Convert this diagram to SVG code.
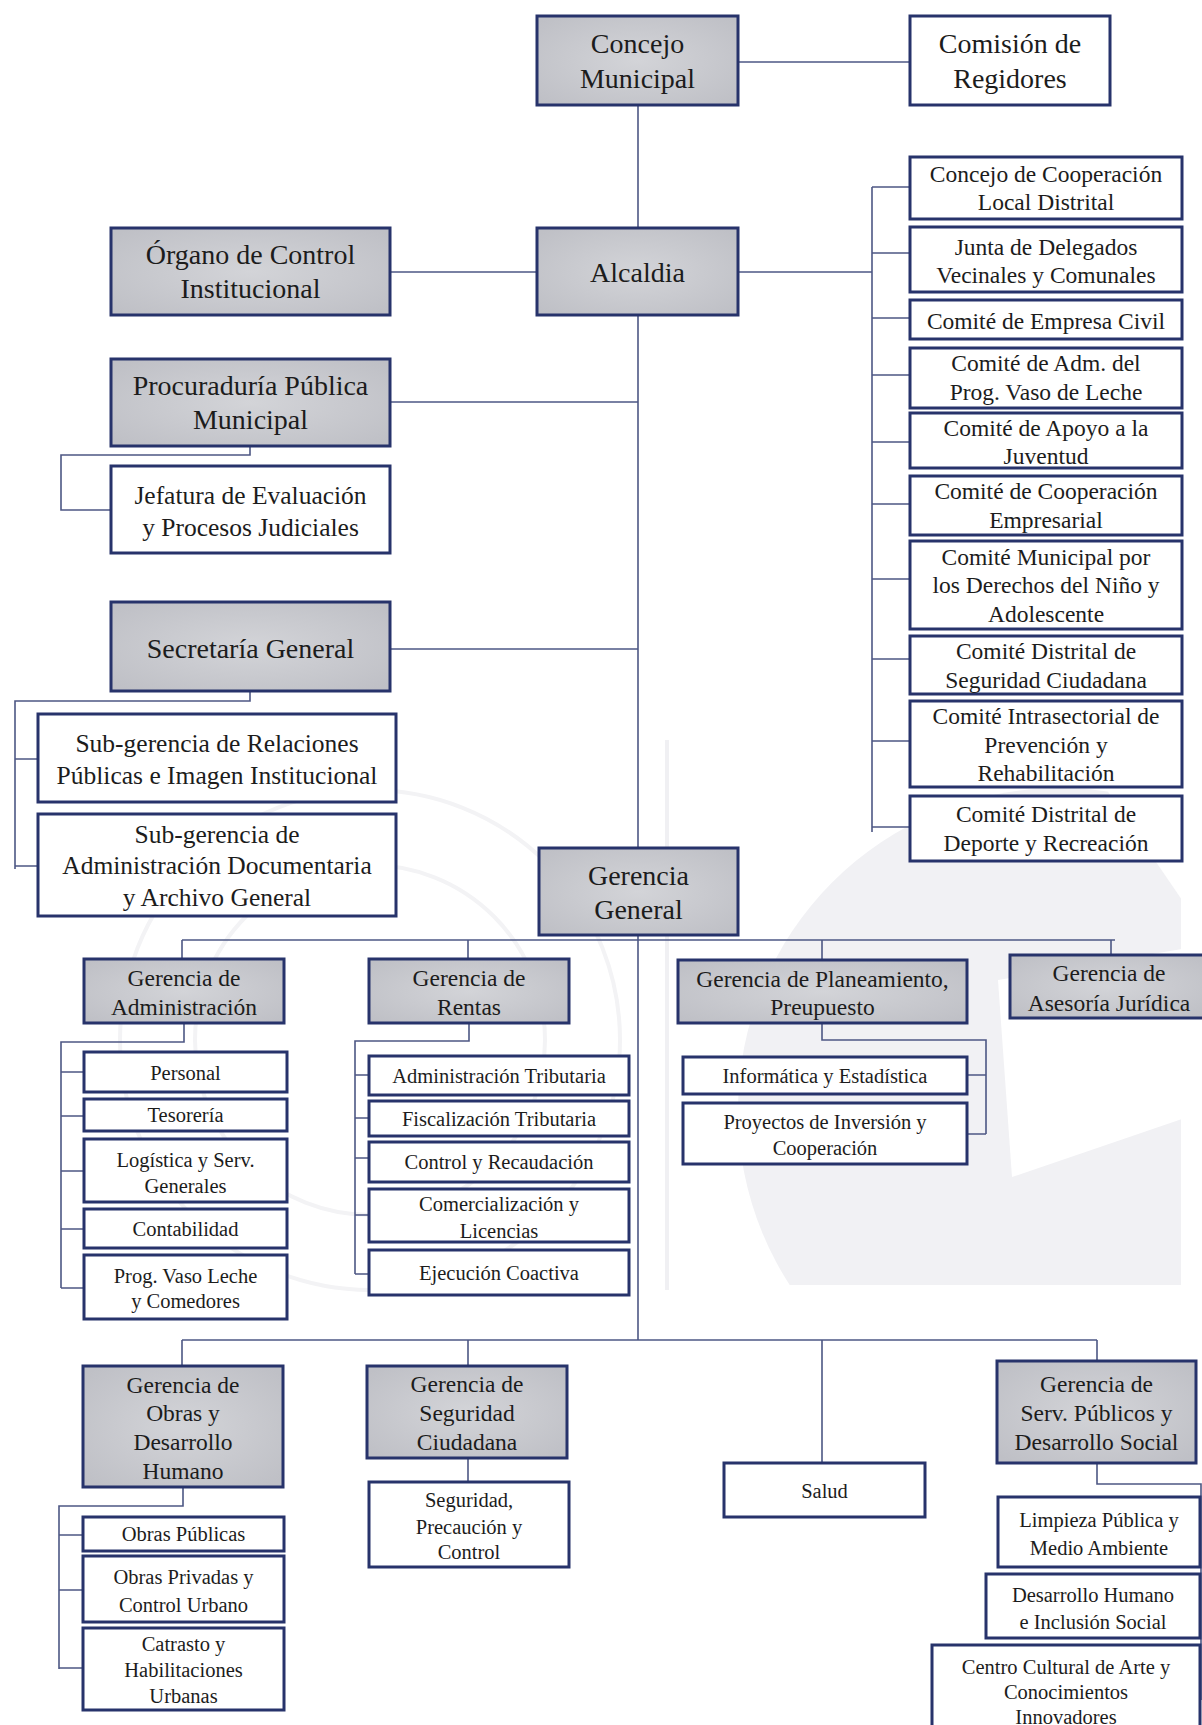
<svg xmlns="http://www.w3.org/2000/svg" width="1202" height="1725" viewBox="0 0 1202 1725">
<defs>
<radialGradient id="gg" cx="50%" cy="50%" r="65%">
<stop offset="0" stop-color="#d3d4d8"/>
<stop offset="1" stop-color="#bfc0c6"/>
</radialGradient>
<clipPath id="wmclip"><rect x="0" y="0" width="1181" height="1285"/></clipPath>
</defs>
<style>
.g{fill:url(#gg);stroke:#27336b;stroke-width:3}
.w{fill:#ffffff;stroke:#27336b;stroke-width:3}
.c{fill:none;stroke:#4d5784;stroke-width:1.6}
text{font-family:"Liberation Serif","Times New Roman",serif;fill:#1c1c1c;text-anchor:middle}
.t28{font-size:28px}
.t25{font-size:25.5px}
.t23{font-size:23.5px}
.t20{font-size:20.5px}
.wm{fill:none;stroke:#f3f3f5;stroke-width:4}
</style>
<rect x="0" y="0" width="1202" height="1725" fill="#ffffff"/>
<g id="watermark">
<circle cx="1060" cy="1110" r="322" fill="#f1f1f4" clip-path="url(#wmclip)"/>
<polygon points="998,980 1182,949 1182,1119 1012,1177" fill="#ffffff"/>
<polygon points="1100,780 1182,780 1182,900" fill="#ffffff"/>
<circle class="wm" cx="370" cy="1040" r="250"/>
<circle class="wm" cx="370" cy="1040" r="175"/>
<rect x="665" y="740" width="4" height="550" fill="#f0f0f3"/>
</g>
<g id="connectors">
<path class="c" d="M738 62 H910"/>
<path class="c" d="M638 105 V228"/>
<path class="c" d="M390 272 H537"/>
<path class="c" d="M738 272 H872"/>
<path class="c" d="M872 187 V832"/>
<path class="c" d="M872 187 H910 M872 253 H910 M872 318 H910 M872 375 H910 M872 442 H910 M872 504 H910 M872 579 H910 M872 659 H910 M872 741 H910 M872 827 H910"/>
<path class="c" d="M638 315 V848"/>
<path class="c" d="M390 402 H638"/>
<path class="c" d="M250 446 V455 H61 V510 H111"/>
<path class="c" d="M390 649 H638"/>
<path class="c" d="M250 691 V701 H15 V869"/>
<path class="c" d="M15 759 H37 M15 866 H37"/>
<path class="c" d="M638 935 V1340"/>
<path class="c" d="M182 940 H1115"/>
<path class="c" d="M182 940 V959 M468 940 V959 M822 940 V959 M1111 940 V955"/>
<path class="c" d="M184 1023 V1042 H61 V1288"/>
<path class="c" d="M61 1072 H84 M61 1116 H84 M61 1171 H84 M61 1229 H84 M61 1288 H84"/>
<path class="c" d="M469 1023 V1041 H355 V1274"/>
<path class="c" d="M355 1075 H369 M355 1118 H369 M355 1158 H369 M355 1215 H369 M355 1274 H369"/>
<path class="c" d="M822 1023 V1040 H986 V1134"/>
<path class="c" d="M967 1075 H986 M967 1134 H986"/>
<path class="c" d="M182 1340 H1097"/>
<path class="c" d="M182 1340 V1366 M468 1340 V1366 M822 1340 V1463 M1097 1340 V1361"/>
<path class="c" d="M183 1487 V1506 H59 V1669"/>
<path class="c" d="M59 1535 H83 M59 1590 H83 M59 1668 H83"/>
<path class="c" d="M468 1458 V1482"/>
<path class="c" d="M1097 1463 V1484 H1201 V1700"/>
</g>
<g id="concejo-municipal"><rect class="g" x="537" y="16" width="201" height="89"/><text class="t28" x="637.5" y="53">Concejo</text><text class="t28" x="637.5" y="88">Municipal</text></g>
<g id="comision-regidores"><rect class="w" x="910" y="16" width="200" height="89"/><text class="t28" x="1010" y="53">Comisión de</text><text class="t28" x="1010" y="88">Regidores</text></g>
<g id="alcaldia"><rect class="g" x="537" y="228" width="201" height="87"/><text class="t28" x="637.5" y="282">Alcaldia</text></g>
<g id="organo-control"><rect class="g" x="111" y="228" width="279" height="87"/><text class="t28" x="250.5" y="264">Órgano de Control</text><text class="t28" x="250.5" y="298">Institucional</text></g>
<g id="procuraduria"><rect class="g" x="111" y="359" width="279" height="87"/><text class="t28" x="250.5" y="395">Procuraduría Pública</text><text class="t28" x="250.5" y="429">Municipal</text></g>
<g id="jefatura"><rect class="w" x="111" y="466" width="279" height="87"/><text class="t25" x="250.5" y="504">Jefatura de Evaluación</text><text class="t25" x="250.5" y="536">y Procesos Judiciales</text></g>
<g id="secretaria-general"><rect class="g" x="111" y="602" width="279" height="89"/><text class="t28" x="250.5" y="658">Secretaría General</text></g>
<g id="sub-relaciones"><rect class="w" x="38" y="714" width="358" height="88"/><text class="t25" x="217" y="752">Sub-gerencia de Relaciones</text><text class="t25" x="217" y="784">Públicas e Imagen Institucional</text></g>
<g id="sub-documentaria"><rect class="w" x="38" y="814" width="358" height="102"/><text class="t25" x="217" y="843">Sub-gerencia de</text><text class="t25" x="217" y="874">Administración Documentaria</text><text class="t25" x="217" y="906">y Archivo General</text></g>
<g id="r1"><rect class="w" x="910" y="157" width="272" height="62"/><text class="t23" x="1046" y="182">Concejo de Cooperación</text><text class="t23" x="1046" y="210">Local Distrital</text></g>
<g id="r2"><rect class="w" x="910" y="227" width="272" height="65"/><text class="t23" x="1046" y="255">Junta de Delegados</text><text class="t23" x="1046" y="283">Vecinales y Comunales</text></g>
<g id="r3"><rect class="w" x="910" y="300" width="272" height="39"/><text class="t23" x="1046" y="329">Comité de Empresa Civil</text></g>
<g id="r4"><rect class="w" x="910" y="348" width="272" height="60"/><text class="t23" x="1046" y="371">Comité de Adm. del</text><text class="t23" x="1046" y="400">Prog. Vaso de Leche</text></g>
<g id="r5"><rect class="w" x="910" y="413" width="272" height="55"/><text class="t23" x="1046" y="436">Comité de Apoyo a la</text><text class="t23" x="1046" y="464">Juventud</text></g>
<g id="r6"><rect class="w" x="910" y="476" width="272" height="59"/><text class="t23" x="1046" y="499">Comité de Cooperación</text><text class="t23" x="1046" y="528">Empresarial</text></g>
<g id="r7"><rect class="w" x="910" y="541" width="272" height="88"/><text class="t23" x="1046" y="565">Comité Municipal por</text><text class="t23" x="1046" y="593">los Derechos del Niño y</text><text class="t23" x="1046" y="622">Adolescente</text></g>
<g id="r8"><rect class="w" x="910" y="636" width="272" height="58"/><text class="t23" x="1046" y="659">Comité Distrital de</text><text class="t23" x="1046" y="688">Seguridad Ciudadana</text></g>
<g id="r9"><rect class="w" x="910" y="701" width="272" height="86"/><text class="t23" x="1046" y="724">Comité Intrasectorial de</text><text class="t23" x="1046" y="753">Prevención y</text><text class="t23" x="1046" y="781">Rehabilitación</text></g>
<g id="r10"><rect class="w" x="910" y="796" width="272" height="65"/><text class="t23" x="1046" y="822">Comité Distrital de</text><text class="t23" x="1046" y="851">Deporte y Recreación</text></g>
<g id="gerencia-general"><rect class="g" x="539" y="848" width="199" height="87"/><text class="t28" x="638.5" y="885">Gerencia</text><text class="t28" x="638.5" y="919">General</text></g>
<g id="ger-administracion"><rect class="g" x="84" y="959" width="200" height="64"/><text class="t23" x="184" y="986">Gerencia de</text><text class="t23" x="184" y="1015">Administración</text></g>
<g id="ger-rentas"><rect class="g" x="369" y="959" width="200" height="64"/><text class="t23" x="469" y="986">Gerencia de</text><text class="t23" x="469" y="1015">Rentas</text></g>
<g id="ger-planeamiento"><rect class="g" x="678" y="960" width="289" height="63"/><text class="t23" x="822.5" y="987">Gerencia de Planeamiento,</text><text class="t23" x="822.5" y="1015">Preupuesto</text></g>
<g id="ger-asesoria"><rect class="g" x="1010" y="955" width="196" height="63"/><text class="t23" x="1109" y="981">Gerencia de</text><text class="t23" x="1109" y="1011">Asesoría Jurídica</text></g>
<g id="personal"><rect class="w" x="84" y="1052" width="203" height="40"/><text class="t20" x="185.5" y="1080">Personal</text></g>
<g id="tesoreria"><rect class="w" x="84" y="1099" width="203" height="32"/><text class="t20" x="185.5" y="1122">Tesorería</text></g>
<g id="logistica"><rect class="w" x="84" y="1139" width="203" height="63"/><text class="t20" x="185.5" y="1167">Logística y Serv.</text><text class="t20" x="185.5" y="1193">Generales</text></g>
<g id="contabilidad"><rect class="w" x="84" y="1209" width="203" height="39"/><text class="t20" x="185.5" y="1236">Contabilidad</text></g>
<g id="vaso-leche"><rect class="w" x="84" y="1255" width="203" height="64"/><text class="t20" x="185.5" y="1283">Prog. Vaso Leche</text><text class="t20" x="185.5" y="1308">y Comedores</text></g>
<g id="adm-tributaria"><rect class="w" x="369" y="1056" width="260" height="39"/><text class="t20" x="499" y="1083">Administración  Tributaria</text></g>
<g id="fisc-tributaria"><rect class="w" x="369" y="1101" width="260" height="35"/><text class="t20" x="499" y="1126">Fiscalización  Tributaria</text></g>
<g id="control-recaudacion"><rect class="w" x="369" y="1142" width="260" height="40"/><text class="t20" x="499" y="1169">Control y Recaudación</text></g>
<g id="comercializacion"><rect class="w" x="369" y="1189" width="260" height="53"/><text class="t20" x="499" y="1211">Comercialización  y</text><text class="t20" x="499" y="1238">Licencias</text></g>
<g id="ejecucion-coactiva"><rect class="w" x="369" y="1250" width="260" height="45"/><text class="t20" x="499" y="1280">Ejecución  Coactiva</text></g>
<g id="informatica"><rect class="w" x="683" y="1057" width="284" height="37"/><text class="t20" x="825" y="1083">Informática  y Estadística</text></g>
<g id="proyectos"><rect class="w" x="683" y="1103" width="284" height="61"/><text class="t20" x="825" y="1129">Proyectos de Inversión  y</text><text class="t20" x="825" y="1155">Cooperación</text></g>
<g id="ger-obras"><rect class="g" x="83" y="1366" width="200" height="121"/><text class="t23" x="183" y="1393">Gerencia de</text><text class="t23" x="183" y="1421">Obras y</text><text class="t23" x="183" y="1450">Desarrollo</text><text class="t23" x="183" y="1479">Humano</text></g>
<g id="ger-seguridad"><rect class="g" x="367" y="1366" width="200" height="92"/><text class="t23" x="467" y="1392">Gerencia de</text><text class="t23" x="467" y="1421">Seguridad</text><text class="t23" x="467" y="1450">Ciudadana</text></g>
<g id="salud"><rect class="w" x="724" y="1463" width="201" height="54"/><text class="t20" x="824.5" y="1498">Salud</text></g>
<g id="ger-servicios"><rect class="g" x="997" y="1361" width="199" height="102"/><text class="t23" x="1096.5" y="1392">Gerencia de</text><text class="t23" x="1096.5" y="1421">Serv. Públicos y</text><text class="t23" x="1096.5" y="1450">Desarrollo Social</text></g>
<g id="obras-publicas"><rect class="w" x="83" y="1517" width="201" height="34"/><text class="t20" x="183.5" y="1541">Obras Públicas</text></g>
<g id="obras-privadas"><rect class="w" x="83" y="1556" width="201" height="66"/><text class="t20" x="183.5" y="1584">Obras Privadas y</text><text class="t20" x="183.5" y="1612">Control Urbano</text></g>
<g id="catrasto"><rect class="w" x="83" y="1628" width="201" height="82"/><text class="t20" x="183.5" y="1651">Catrasto y</text><text class="t20" x="183.5" y="1677">Habilitaciones</text><text class="t20" x="183.5" y="1703">Urbanas</text></g>
<g id="seguridad-precaucion"><rect class="w" x="369" y="1482" width="200" height="85"/><text class="t20" x="469" y="1507">Seguridad,</text><text class="t20" x="469" y="1534">Precaución y</text><text class="t20" x="469" y="1559">Control</text></g>
<g id="limpieza"><rect class="w" x="998" y="1497" width="202" height="70"/><text class="t20" x="1099" y="1527">Limpieza  Pública y</text><text class="t20" x="1099" y="1555">Medio  Ambiente</text></g>
<g id="desarrollo-humano"><rect class="w" x="986" y="1574" width="214" height="64"/><text class="t20" x="1093" y="1602">Desarrollo  Humano</text><text class="t20" x="1093" y="1629">e Inclusión  Social</text></g>
<g id="centro-cultural"><rect class="w" x="932" y="1645" width="268" height="90"/><text class="t20" x="1066" y="1674">Centro Cultural  de Arte y</text><text class="t20" x="1066" y="1699">Conocimientos</text><text class="t20" x="1066" y="1724">Innovadores</text></g>
</svg>
